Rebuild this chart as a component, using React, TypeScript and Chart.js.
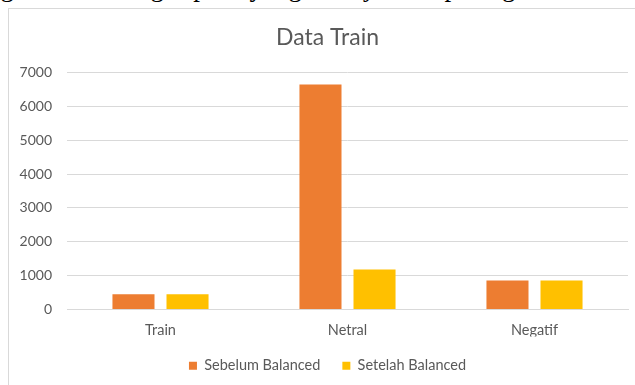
import React, { useEffect, useRef } from "react";
import { Chart, registerables } from "chart.js";

Chart.register(...registerables);

const categories = ["Train", "Netral", "Negatif"];
const sebelumBalanced = [450, 6650, 860];
const setelahBalanced = [450, 1180, 860];
const yTicks = [0, 1000, 2000, 3000, 4000, 5000, 6000, 7000];
const chartTitle = "Data Train";
const seriesNames = ["Sebelum Balanced", "Setelah Balanced"];
const bodyText = "ng tak seimbang seperti yang ditunjukkan pada gambar 3. S";

const FONT = "Lato, 'Open Sans', sans-serif";
const GRAY = "#595959";

export default function App() {
  const ref = useRef<HTMLCanvasElement | null>(null);

  useEffect(() => {
    if (!ref.current) return;
    const chart = new Chart(ref.current, {
      type: "bar",
      data: {
        labels: categories,
        datasets: [
          {
            label: seriesNames[0],
            data: sebelumBalanced,
            backgroundColor: "#ED7D31",
            categoryPercentage: 0.578,
            barPercentage: 0.778,
          },
          {
            label: seriesNames[1],
            data: setelahBalanced,
            backgroundColor: "#FFC000",
            categoryPercentage: 0.578,
            barPercentage: 0.778,
          },
        ],
      },
      options: {
        animation: false,
        responsive: false,
        layout: { padding: { left: 0, right: 0, top: 0, bottom: 16 } },
        plugins: {
          title: {
            display: true,
            text: chartTitle,
            color: GRAY,
            font: { family: FONT, size: 23, weight: "normal" },
            padding: { top: 15, bottom: 21 },
          },
          legend: {
            position: "bottom",
            labels: {
              color: GRAY,
              font: { family: FONT, size: 14.5 },
              boxWidth: 8,
              boxHeight: 8,
              padding: 22,
            },
          },
          tooltip: { enabled: false },
        },
        scales: {
          x: {
            grid: { display: false, drawTicks: false },
            border: { display: true, color: "#d9d9d9" },
            ticks: { color: GRAY, font: { family: FONT, size: 14.5 }, padding: 12 },
            afterFit: (s: any) => {
              s.height = 27;
            },
          },
          y: {
            min: 0,
            max: 7000,
            afterBuildTicks: (s: any) => {
              s.ticks = yTicks.map((v) => ({ value: v }));
            },
            afterFit: (s: any) => {
              s.width = 58;
            },
            grid: { color: "#d9d9d9", drawTicks: false },
            border: { display: false },
            ticks: {
              color: GRAY,
              font: { family: FONT, size: 14 },
              padding: 15,
              callback: (v: any) => String(v),
            },
          },
          yRightSpacer: {
            type: "linear",
            position: "right",
            min: 0,
            max: 7000,
            grid: { display: false, drawTicks: false },
            border: { display: false },
            ticks: { display: false },
            afterFit: (s: any) => {
              s.width = 18;
            },
          },
        },
      },
    });
    return () => chart.destroy();
  }, []);

  return (
    <div
      style={{
        position: "fixed",
        left: 0,
        top: 0,
        width: 635,
        height: 385,
        overflow: "hidden",
        background: "#fff",
      }}
    >
      <div
        style={{
          position: "absolute",
          left: -13,
          top: -26,
          whiteSpace: "nowrap",
          fontFamily: "'Liberation Serif', 'Times New Roman', serif",
          fontSize: 27,
          lineHeight: "27px",
          color: "#000",
        }}
      >
        {bodyText}
      </div>
      <div
        style={{
          position: "absolute",
          left: 8,
          top: 8,
          width: 637,
          height: 400,
          borderLeft: "1px solid #d9d9d9",
          borderTop: "1px solid #d9d9d9",
        }}
      >
        <canvas ref={ref} width={637} height={390} style={{ display: "block" }} />
      </div>
    </div>
  );
}
